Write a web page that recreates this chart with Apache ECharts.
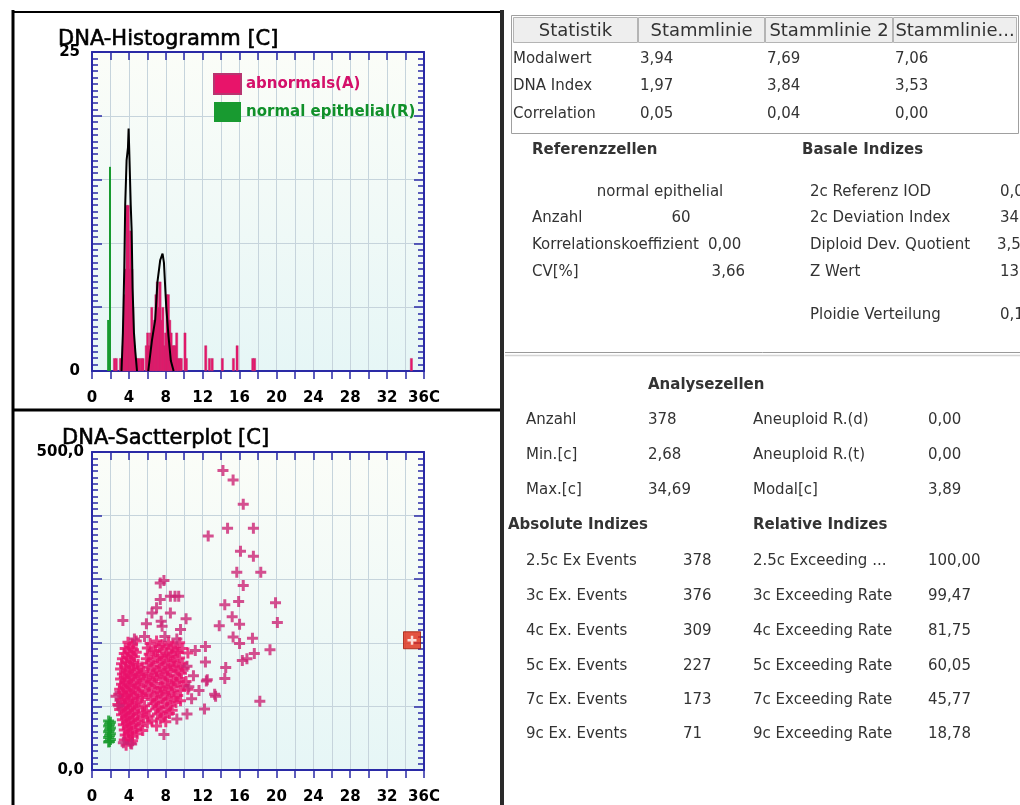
<!DOCTYPE html>
<html><head><meta charset="utf-8">
<script src="https://cdn.jsdelivr.net/npm/echarts@6/dist/echarts.min.js"></script>
<style>html,body{margin:0;padding:0;background:#fff;}#c{width:1020px;height:805px;}</style>
</head><body><div id="c"></div>
<script>
// ---------- DATA ----------
const histXLabels = ['0','4','8','12','16','20','24','28','32','36C'];
const histYLabels = ['0','25'];
const scatYLabels = ['0,0','500,0'];
const legendNames = ['abnormals(A)','normal epithelial(R)'];

const abnormalBins = [[2.4,1],[2.6,1],[3.05,1],[3.2,1],[3.35,2],[3.45,4],[3.55,6],[3.65,8],[3.75,13],[3.9,13],[4.05,8],[4.15,11],[4.3,8],[4.4,5],[4.55,2],[4.7,1],[4.85,1],
 [5.05,1],[5.3,1],[5.5,1],[5.85,2],[6.0,3],[6.15,2],[6.3,3],[6.45,5],[6.6,3],[6.75,4],[6.9,6],[7.05,7],[7.2,5],[7.35,7],[7.5,4],[7.65,5],[7.8,2],[7.95,3],[8.1,6],[8.25,6],[8.4,4],[8.55,3],[8.7,2],[8.85,2],[9.0,2],[9.15,3],[9.3,1],[9.5,1],[9.65,1],[10.05,3],[10.2,1],
 [12.3,2],[12.7,1],[13.0,1],[14.1,1],[15.3,1],[15.7,2],[17.4,1],[17.6,1],[34.6,1]];
const normalBins = [[1.75,4],[1.95,16]];
const outlinePeak1 = [[3.2,0],[3.35,3],[3.5,8],[3.6,13],[3.75,16.5],[3.9,17.5],[3.97,19],[4.05,17],[4.2,13],[4.3,11],[4.4,6.5],[4.55,3],[4.7,1.5],[4.88,0]];
const outlinePeak2 = [[6.1,0],[6.5,2.4],[6.85,4],[7.1,7],[7.4,8.7],[7.65,9.2],[7.8,8.5],[8.05,5],[8.3,2.7],[8.55,0.8],[8.85,0]];

const scatterOutliers = [[14.2,471],[15.3,456],[16.4,418],[14.7,380],[17.5,380],[12.6,368],[16.1,344],[17.5,336],[15.7,311],[18.3,311],[16.4,290],
 [7.4,294],[7.8,298],[8.5,273],[9.0,273],[9.4,273],[7.4,268],[6.5,247],[7.0,255],[8.5,247],[3.35,235],[5.9,230],[7.5,234],[10.2,238],[9.6,221],[7.6,226],[4.6,206],[5.7,210],[7.9,210],[9.2,206],
 [14.4,260],[15.9,265],[15.2,241],[13.8,227],[16.0,229],[19.9,263],[20.1,232],[15.3,209],[16.0,199],[17.4,207],[19.3,189],[17.6,183],[16.8,175],[16.3,172],[12.3,194],[11.2,188],[12.3,170],[14.5,161],[14.4,144],[12.4,140],[12.5,142],[11.6,125],[13.4,116],[13.3,119],[10.8,112],[12.2,96],[10.3,88],[9.2,80],[18.2,108],[7.8,56],[4.3,41],[3.4,43],[2.6,116],[2.9,101],[11.0,148],[10.5,131],[10.3,163]];
const scatterCluster = [
 [3.9,201],[4.4,198],[4.8,203],[6.3,199],[7.0,203],[7.6,197],[8.3,201],[8.8,196],[9.5,200],
 [3.6,191],[4.1,193],[4.5,189],[6.0,192],[6.7,188],[7.3,194],[7.9,190],[8.6,192],[9.1,187],[9.8,191],
 [3.5,183],[3.9,186],[4.3,181],[4.8,185],[6.2,182],[6.9,186],[7.5,180],[8.1,184],[8.7,181],[9.3,185],[10.4,184],
 [3.3,175],[3.8,177],[4.2,173],[4.6,178],[5.9,175],[6.5,172],[7.1,177],[7.7,174],[8.3,178],[8.9,172],[9.5,176],
 [3.2,167],[3.7,170],[4.1,165],[4.5,169],[5.0,166],[6.1,168],[6.7,164],[7.3,169],[7.9,166],[8.5,170],[9.1,164],[9.8,168],
 [3.1,159],[3.6,162],[4.0,157],[4.4,161],[4.9,158],[5.4,162],[6.4,159],[7.0,156],[7.6,161],[8.2,158],[8.8,162],[9.4,157],[10.0,160],
 [3.3,151],[3.7,154],[4.1,149],[4.6,153],[5.1,150],[5.6,155],[6.1,151],[6.7,148],[7.3,153],[7.9,150],[8.5,154],[9.1,149],[9.7,152],
 [3.1,143],[3.5,146],[3.9,141],[4.3,145],[4.8,142],[5.3,147],[5.9,143],[6.4,140],[7.0,145],[7.6,142],[8.2,146],[8.8,141],[9.5,144],[10.2,139],
 [3.2,135],[3.6,138],[4.0,133],[4.5,137],[5.0,134],[5.6,138],[6.2,133],[6.8,136],[7.4,131],[8.0,137],[8.6,134],[9.2,138],[9.9,133],
 [3.0,127],[3.4,130],[3.8,125],[4.2,129],[4.7,126],[5.2,130],[5.8,125],[6.5,128],[7.1,124],[7.7,129],[8.3,126],[8.9,130],[9.6,125],[10.4,127],
 [2.9,119],[3.3,122],[3.7,117],[4.1,121],[4.5,118],[5.0,122],[5.5,117],[6.1,120],[6.8,116],[7.4,121],[8.0,118],[8.6,122],[9.3,117],
 [3.1,111],[3.5,114],[3.9,109],[4.3,113],[4.8,110],[5.4,114],[6.4,111],[7.0,108],[7.6,113],[8.2,110],[8.9,114],[9.6,109],
 [2.8,103],[3.2,106],[3.6,101],[4.0,105],[4.4,102],[4.9,106],[5.7,101],[6.6,104],[7.2,100],[7.8,105],[8.5,102],[9.1,106],
 [3.0,95],[3.4,98],[3.8,93],[4.2,97],[4.6,94],[5.1,98],[5.9,93],[6.9,96],[7.5,92],[8.1,97],[8.7,94],
 [3.2,87],[3.6,90],[4.0,85],[4.4,89],[4.9,86],[5.5,90],[6.2,85],[7.1,88],[7.8,84],[8.4,89],
 [3.3,79],[3.7,82],[4.1,77],[4.5,81],[5.0,78],[5.6,82],[6.5,77],[7.4,80],[8.0,76],
 [3.4,71],[3.8,74],[4.2,69],[4.7,73],[5.3,70],[6.0,74],[7.0,69],
 [3.5,63],[3.9,66],[4.3,61],[4.8,65],[5.5,62],
 [3.6,55],[4.0,58],[4.4,53],[4.9,57],
 [3.5,47],[3.9,50],[4.4,46],
 [3.7,39],[4.2,42]];
const scatterNormal = [[1.8,77],[2.0,75],[1.9,72],[1.8,69],[2.0,66],[1.9,63],[1.8,60],[2.0,57],[1.9,54],[1.8,51],[2.0,48],[1.9,45],[1.8,44]];
const scatterMarked = [[34.7,204]];

const tableHeader = ['Statistik','Stammlinie','Stammlinie 2','Stammlinie...'];
const tableRows = [['Modalwert','3,94','7,69','7,06'],['DNA Index','1,97','3,84','3,53'],['Correlation','0,05','0,04','0,00']];
const refTitle = 'Referenzzellen', refType = 'normal epithelial';
const refLabels = ['Anzahl','Korrelationskoeffizient','CV[%]'];
const refValues = ['60','0,00','3,66'];
const basalTitle = 'Basale Indizes';
const basalLabels = ['2c Referenz IOD','2c Deviation Index','Diploid Dev. Quotient','Z Wert','Ploidie Verteilung'];
const basalValues = ['0,0','34,','3,5','13,','0,1'];
const analyseTitle = 'Analysezellen';
const analyseLabels = ['Anzahl','Min.[c]','Max.[c]'];
const analyseValues = ['378','2,68','34,69'];
const analyseLabels2 = ['Aneuploid R.(d)','Aneuploid R.(t)','Modal[c]'];
const analyseValues2 = ['0,00','0,00','3,89'];
const absTitle = 'Absolute Indizes', relTitle = 'Relative Indizes';
const absLabels = ['2.5c Ex Events','3c Ex. Events','4c Ex. Events','5c Ex. Events','7c Ex. Events','9c Ex. Events'];
const absValues = ['378','376','309','227','173','71'];
const relLabels = ['2.5c Exceeding ...','3c Exceeding Rate','4c Exceeding Rate','5c Exceeding Rate','7c Exceeding Rate','9c Exceeding Rate'];
const relValues = ['100,00','99,47','81,75','60,05','45,77','18,78'];

// ---------- STYLE ----------
const PINK = '#e8146a', GREEN = '#189a30', BLUE = '#2a2aa6', GRIDC = '#c6d4dc';
const FONT = '"DejaVu Sans", Verdana, sans-serif';
const plusPath = 'path://M4,0H7V4H11V7H7V11H4V7H0V4H4Z';
const bg = {type:'linear',x:0,y:0,x2:0,y2:1,colorStops:[{offset:0,color:'#fbfdf8'},{offset:1,color:'#e6f6f6'}]};

function xAxes(gi, labels){
  return [
    {type:'value', gridIndex:gi, position:'bottom', min:0, max:36, interval:2,
     axisLine:{show:true, onZero:false, lineStyle:{color:BLUE, width:2}},
     axisTick:{show:true, inside:false, length:8, lineStyle:{color:BLUE, width:1.5}},
     axisLabel:{margin:20, color:'#000', fontFamily:FONT, fontWeight:'bold', fontSize:15,
       formatter:v => (v % 4 === 0 ? labels[v/4] : '')},
     splitLine:{show:true, lineStyle:{color:GRIDC, width:1}}},
    {type:'value', gridIndex:gi, position:'top', min:0, max:36, interval:2,
     axisLine:{show:true, onZero:false, lineStyle:{color:BLUE, width:2}},
     axisTick:{show:true, inside:true, length:8, lineStyle:{color:BLUE, width:1.5}},
     axisLabel:{show:false}, splitLine:{show:false}}
  ];
}
function yAxes(gi, max, iv, labels, margin){
  return [
    {type:'value', gridIndex:gi, position:'left', min:0, max:max, interval:iv,
     axisLine:{show:true, onZero:false, lineStyle:{color:BLUE, width:2}},
     axisTick:{show:true, inside:true, length:10, lineStyle:{color:BLUE, width:1.5}},
     minorTick:{show:true, splitNumber:10, length:6, lineStyle:{color:BLUE, width:1.5}},
     axisLabel:{margin:margin, color:'#000', fontFamily:FONT, fontWeight:'bold', fontSize:15,
       formatter:v => (v === 0 ? labels[0] : (v === max ? labels[1] : ''))},
     splitLine:{show:true, lineStyle:{color:GRIDC, width:1}}},
    {type:'value', gridIndex:gi, position:'right', min:0, max:max, interval:iv,
     axisLine:{show:true, onZero:false, lineStyle:{color:BLUE, width:2}},
     axisTick:{show:true, inside:true, length:10, lineStyle:{color:BLUE, width:1.5}},
     minorTick:{show:true, splitNumber:10, length:6, lineStyle:{color:BLUE, width:1.5}},
     axisLabel:{show:false}, splitLine:{show:false}}
  ];
}

// ---------- GRAPHIC TEXT / FRAMES ----------
const G = [];
function txt(t, x, y, o){
  o = o || {};
  const al = o.align || 'left';
  const st = {text:t, x:x, y:y, fill:o.fill||'#333',
    font:(o.weight||'normal')+' '+(o.size||15)+'px '+FONT, align:al, textAlign:al,
    verticalAlign:'middle', textVerticalAlign:'middle'};
  if (o.stroke) { st.stroke = o.stroke; st.lineWidth = o.lw || 0.5; }
  G.push({type:'text', z:100, silent:true, style:st});
}
function line(x1,y1,x2,y2,c,w){ G.push({type:'line', z:90, silent:true, shape:{x1,y1,x2,y2}, style:{stroke:c, lineWidth:w}}); }
function rect(x,y,w,h,f,s,lw){ G.push({type:'rect', z:80, silent:true, shape:{x,y,width:w,height:h}, style:{fill:f, stroke:s, lineWidth:lw||1}}); }

// left panel frame
line(13,10,13,805,'#000',3);
line(12,12,501,12,'#000',2);
line(12,410,501,410,'#000',3);
line(502,10,502,805,'#2a2a2a',4);
// titles
txt('DNA-Histogramm [C]',58,40,{size:21,fill:'#000',stroke:'#000',lw:0.6});
txt('DNA-Sactterplot [C]',62,439,{size:21,fill:'#000',stroke:'#000',lw:0.6});

// table
rect(511.5,15.5,507,118,'#fff','#a0a0a0',1);
const colX = [513,638,765,893,1017];
for (let i=0;i<4;i++){
  rect(colX[i]+0.5,17.5,colX[i+1]-colX[i]-1,25,'#eeeeee','#b4b4b4',1);
  txt(tableHeader[i],(colX[i]+colX[i+1])/2,31,{size:18,align:'center'});
}
const rowY = [59,86,114];
tableRows.forEach((r,ri)=>{ r.forEach((c,ci)=>txt(c, ci===0?513:colX[ci]+2, rowY[ri], {size:15})); });

// Referenzzellen / Basale Indizes
txt(refTitle,532,150,{weight:'bold'});
txt(basalTitle,802,150,{weight:'bold'});
txt(refType,660,192,{align:'center'});
const refY = [218,245,272];
refLabels.forEach((l,i)=>txt(l,532,refY[i]));
txt(refValues[0],681,218,{align:'center'});
txt(refValues[1],708,245);
txt(refValues[2],745,272,{align:'right'});
const basalY = [192,218,245,272,315];
basalLabels.forEach((l,i)=>{ txt(l,810,basalY[i]); txt(basalValues[i], i===2?997:1000, basalY[i]); });

line(505,352.5,1020,352.5,'#9a9a9a',1);
line(505,355.5,1020,355.5,'#d4d4d4',1.5);

// Analysezellen
txt(analyseTitle,648,385,{weight:'bold'});
const anY = [420,455,490];
analyseLabels.forEach((l,i)=>{ txt(l,526,anY[i]); txt(analyseValues[i],648,anY[i]); txt(analyseLabels2[i],753,anY[i]); txt(analyseValues2[i],928,anY[i]); });
txt(absTitle,508,525,{weight:'bold'});
txt(relTitle,753,525,{weight:'bold'});
const exY = [561,596,631,666,700,734];
absLabels.forEach((l,i)=>{ txt(l,526,exY[i]); txt(absValues[i],683,exY[i]); txt(relLabels[i],753,exY[i]); txt(relValues[i],928,exY[i]); });

// ---------- CHART ----------
const chart = echarts.init(document.getElementById('c'), null, {renderer:'canvas'});
chart.setOption({
  animation:false,
  backgroundColor:'#fff',
  grid:[
    {left:92, top:52, width:332, height:319, show:true, backgroundColor:bg, borderWidth:0},
    {left:92, top:452, width:332, height:319, show:true, backgroundColor:bg, borderWidth:0}
  ],
  xAxis:[...xAxes(0,histXLabels), ...xAxes(1,histXLabels)],
  yAxis:[...yAxes(0,25,5,histYLabels,12), ...yAxes(1,500,100,scatYLabels,8)],
  legend:{
    data:[{name:legendNames[0], textStyle:{color:'#d4106a'}}, {name:legendNames[1], textStyle:{color:'#10902a'}}],
    orient:'vertical', left:213, top:73, itemWidth:27, itemHeight:20, itemGap:7, icon:'rect',
    textStyle:{fontFamily:FONT, fontWeight:'bold', fontSize:15}, selectedMode:false, padding:0
  },
  series:[
    {name:legendNames[0], type:'bar', xAxisIndex:0, yAxisIndex:0, data:abnormalBins, barWidth:2.6,
     itemStyle:{color:PINK, borderColor:'#b83470', borderWidth:0.4}, z:3},
    {name:legendNames[1], type:'bar', xAxisIndex:0, yAxisIndex:0, data:normalBins, barWidth:2, barGap:'-100%',
     itemStyle:{color:GREEN}, z:3},
    {name:'outline1', type:'line', xAxisIndex:0, yAxisIndex:0, data:outlinePeak1, symbol:'none',
     lineStyle:{color:'#000', width:2}, z:4},
    {name:'outline2', type:'line', xAxisIndex:0, yAxisIndex:0, data:outlinePeak2, symbol:'none',
     lineStyle:{color:'#000', width:2}, z:4},
    {name:'abn-scatter-cluster', type:'scatter', xAxisIndex:2, yAxisIndex:2, data:scatterCluster, symbol:plusPath, symbolSize:11,
     itemStyle:{color:'#e8106a'}, z:3},
    {name:'abn-scatter-out', type:'scatter', xAxisIndex:2, yAxisIndex:2, data:scatterOutliers, symbol:plusPath, symbolSize:11,
     itemStyle:{color:'#cc2474'}, z:3},
    {name:'norm-scatter', type:'scatter', xAxisIndex:2, yAxisIndex:2, data:scatterNormal, symbol:plusPath, symbolSize:11,
     itemStyle:{color:'#169a2c'}, z:3},
    {name:'marked-box', type:'scatter', xAxisIndex:2, yAxisIndex:2, data:scatterMarked, symbol:'rect', symbolSize:17,
     itemStyle:{color:'#e02a14', borderColor:'#a01808', borderWidth:1}, z:4},
    {name:'marked-plus', type:'scatter', xAxisIndex:2, yAxisIndex:2, data:scatterMarked, symbol:plusPath, symbolSize:9,
     itemStyle:{color:'#ffffff'}, z:5}
  ],
  graphic:G
});
</script></body></html>
